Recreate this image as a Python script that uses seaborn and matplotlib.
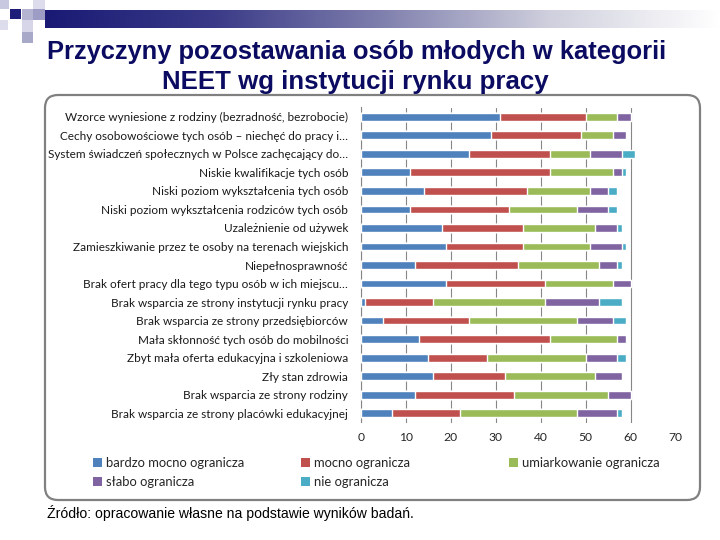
import numpy as np
import pandas as pd
import matplotlib
matplotlib.use("Agg")
import matplotlib.pyplot as plt
import seaborn as sns
from matplotlib.patches import FancyBboxPatch, Rectangle, Patch
from matplotlib.transforms import IdentityTransform
from matplotlib.colors import LinearSegmentedColormap

categories = [
    "Wzorce wyniesione z rodziny (bezradność, bezrobocie)",
    "Cechy osobowościowe tych osób – niechęć do pracy i…",
    "System świadczeń społecznych w Polsce zachęcający do…",
    "Niskie kwalifikacje tych osób",
    "Niski poziom wykształcenia tych osób",
    "Niski poziom wykształcenia rodziców tych osób",
    "Uzależnienie od używek",
    "Zamieszkiwanie przez te osoby na terenach wiejskich",
    "Niepełnosprawność",
    "Brak ofert pracy dla tego typu osób w ich miejscu…",
    "Brak wsparcia ze strony instytucji rynku pracy",
    "Brak wsparcia ze strony przedsiębiorców",
    "Mała skłonność tych osób do mobilności",
    "Zbyt mała oferta edukacyjna i szkoleniowa",
    "Zły stan zdrowia",
    "Brak wsparcia ze strony rodziny",
    "Brak wsparcia ze strony placówki edukacyjnej",
]
bardzo_mocno = [31, 29, 24, 11, 14, 11, 18, 19, 12, 19, 1, 5, 13, 15, 16, 12, 7]
mocno = [19, 20, 18, 31, 23, 22, 18, 17, 23, 22, 15, 19, 29, 13, 16, 22, 15]
umiarkowanie = [7, 7, 9, 14, 14, 15, 16, 15, 18, 15, 25, 24, 15, 22, 20, 21, 26]
slabo = [3, 3, 7, 2, 4, 7, 5, 7, 4, 4, 12, 8, 2, 7, 6, 5, 9]
nie = [0, 0, 3, 1, 2, 2, 1, 1, 1, 0, 5, 3, 0, 2, 0, 0, 1]
series_names = ["bardzo mocno ogranicza", "mocno ogranicza", "umiarkowanie ogranicza",
                "słabo ogranicza", "nie ogranicza"]
x_ticks = [0, 10, 20, 30, 40, 50, 60, 70]
colors = ["#4F81BD", "#C0504D", "#9BBB59", "#8064A2", "#4BACC6"]

sns.set_style("white")
plt.rcParams["font.family"] = ["Lato", "DejaVu Sans"]

W, H = 720, 540
fig = plt.figure(figsize=(7.2, 5.4), dpi=100)

# background decoration axes (pixel coords)
bg = fig.add_axes([0, 0, 1, 1], zorder=0)
bg.set_xlim(0, W)
bg.set_ylim(H, 0)
bg.axis("off")
grad = np.linspace(0, 1, 256)[None, :]
cmap = LinearSegmentedColormap.from_list("g", ["#1A1A75", "#3A3A88", "#8080AE", "#D0D0DE", "#FFFFFF"])
bg.imshow(grad, cmap=cmap, aspect="auto", extent=[45, 720, 28, 10], zorder=1)
squares = [
    (0, 0, 9, 9, "#C8C8E0"),
    (10, 9, 11, 10, "#1E1E7A"),
    (22, 9, 11, 11, "#B4B4D2"),
    (33, 0, 12, 9, "#DCDCEC"),
    (33, 9, 12, 11, "#9C9CC4"),
    (22, 20, 11, 12, "#D6D6E8"),
    (22, 32, 11, 11, "#A8A8C8"),
    (0, 20, 8, 10, "#DCDCEC"),
]
for x, y, w, h, c in squares:
    bg.add_patch(Rectangle((x, y), w, h, color=c, lw=0, zorder=2))

# rounded frame
frame = FancyBboxPatch((45, H - 500), 655, 405, boxstyle="round,pad=0,rounding_size=13",
                       transform=IdentityTransform(), fill=False, ec="#808080", lw=1.6,
                       zorder=1)
fig.patches.append(frame)

# main axes
top_px, bot_px = 107.5, 422.5
left_px, right_px = 360.7, 675.7
ax = fig.add_axes([left_px / W, 1 - bot_px / H, (right_px - left_px) / W, (bot_px - top_px) / H],
                  zorder=2)
ax.patch.set_alpha(0)

stack = np.array([bardzo_mocno, mocno, umiarkowanie, slabo, nie])
cum = np.cumsum(stack, axis=0)
for i in range(len(series_names) - 1, -1, -1):
    df = pd.DataFrame({"cat": categories, "val": cum[i]})
    sns.barplot(data=df, x="val", y="cat", order=categories, color=colors[i],
                saturation=1, width=0.42, errorbar=None, ax=ax, zorder=3)

ax.set_xlim(0, 70)
ax.set_ylim(len(categories) - 0.5, -0.5)
ax.set_xticks(x_ticks)
ax.set_xticklabels([str(t) for t in x_ticks], fontsize=8.7, color="#262626")
ax.set_xlabel("")
ax.set_ylabel("")
ax.grid(axis="x", color="#868686", lw=0.8, zorder=0)
ax.set_axisbelow(True)
ax.get_xgridlines()[-1].set_visible(False)
for s in ["top", "right", "bottom"]:
    ax.spines[s].set_visible(False)
ax.spines["left"].set_color("#868686")
ax.spines["left"].set_linewidth(0.8)
ax.tick_params(axis="x", length=0, pad=7)
ax.tick_params(axis="y", which="major", length=0, pad=9, labelsize=8.5, labelcolor="#1a1a1a")
ax.set_yticks(np.arange(-0.5, len(categories), 1), minor=True)
ax.tick_params(axis="y", which="minor", length=4, color="#868686", width=0.8)

# legend in three columns, row-major
handles = [Patch(facecolor=c, edgecolor="none") for c in colors]
col_x = [93, 301, 509]
col_items = [[0, 3], [1, 4], [2]]
for cx, items in zip(col_x, col_items):
    leg = fig.legend([handles[k] for k in items], [series_names[k] for k in items],
                     loc="upper left", bbox_to_anchor=(cx / W, 1 - 457 / H),
                     frameon=False, fontsize=9.4, handlelength=0.72, handleheight=0.72,
                     handletextpad=0.3, labelspacing=0.55, borderaxespad=0, borderpad=0)
    for t in leg.get_texts():
        t.set_color("#262626")

# titles
title_color = "#0B0B61"
tfam = ["Liberation Sans Narrow", "Liberation Sans", "DejaVu Sans"]
t1 = fig.text(47 / W, 1 - 59 / H, "Przyczyny pozostawania osób młodych w kategorii",
              ha="left", va="baseline", fontsize=18.5, fontweight="bold", color=title_color, family=tfam)
t2 = fig.text(162 / W, 1 - 89 / H, "NEET wg instytucji rynku pracy",
              ha="left", va="baseline", fontsize=18.5, fontweight="bold", color=title_color, family=tfam)
t3 = fig.text(47 / W, 1 - 518 / H, "Źródło: opracowanie własne na podstawie wyników badań.",
              ha="left", va="baseline", fontsize=10.5, color="#000000", family=tfam)

# fit text widths to the reference
renderer = fig.canvas.get_renderer()
for t, target in [(t1, 620), (t2, 386), (t3, 365)]:
    for _ in range(3):
        wpx = t.get_window_extent(renderer).width
        t.set_fontsize(t.get_fontsize() * target / wpx)

fig.savefig("out.png", dpi=100)
